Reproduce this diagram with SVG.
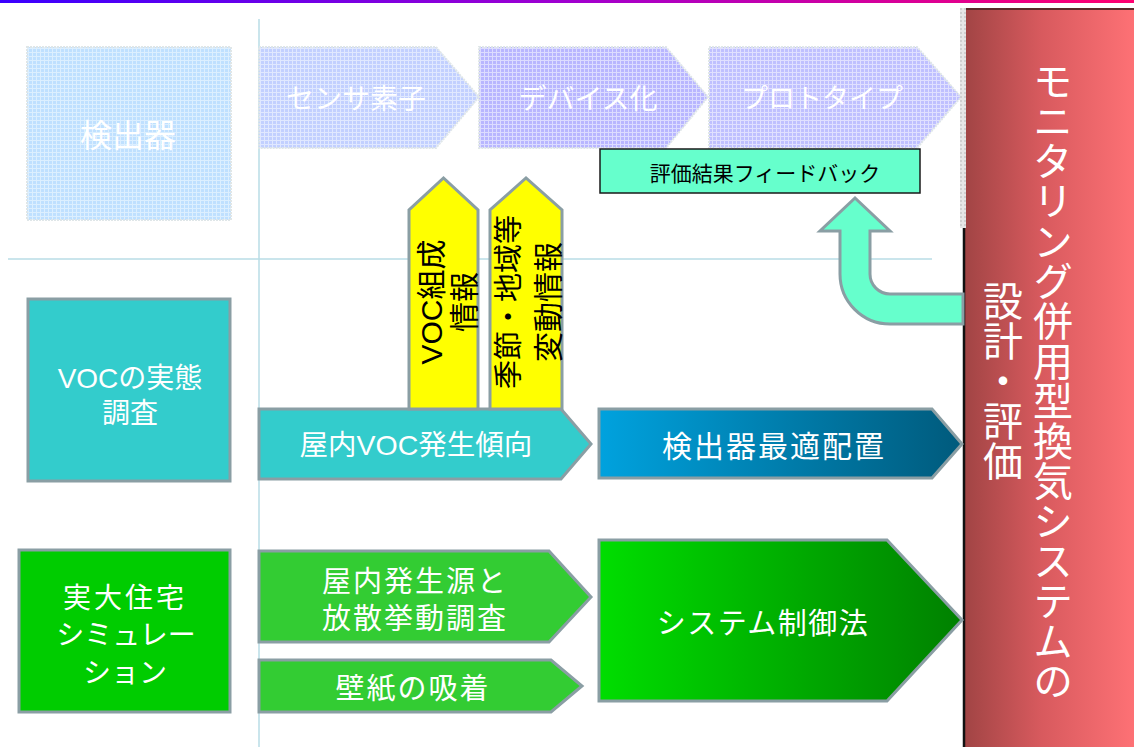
<svg xmlns="http://www.w3.org/2000/svg" width="1134" height="747" viewBox="0 0 1134 747">
  <defs>
    <linearGradient id="gTop" x1="0" y1="0" x2="1" y2="0">
      <stop offset="0" stop-color="#3a00ff"/>
      <stop offset="0.5" stop-color="#a000d0"/>
      <stop offset="1" stop-color="#ff0070"/>
    </linearGradient>
    <linearGradient id="gRed" x1="0" y1="0" x2="1" y2="0">
      <stop offset="0" stop-color="#a04444"/>
      <stop offset="0.45" stop-color="#d85a5e"/>
      <stop offset="1" stop-color="#ff7276"/>
    </linearGradient>
    <linearGradient id="gBlue" x1="0" y1="0" x2="1" y2="0">
      <stop offset="0" stop-color="#00a2de"/>
      <stop offset="1" stop-color="#005a7c"/>
    </linearGradient>
    <linearGradient id="gGreen" x1="0" y1="0" x2="1" y2="0">
      <stop offset="0" stop-color="#00de00"/>
      <stop offset="1" stop-color="#008000"/>
    </linearGradient>
    <pattern id="pA" width="4" height="4" patternUnits="userSpaceOnUse">
      <rect width="4" height="4" fill="#bfe0ff"/>
      <rect x="0" y="0" width="4" height="1" fill="#dcefff"/>
      <rect x="0" y="0" width="1" height="4" fill="#dcefff"/>
    </pattern>
    <pattern id="pB" width="4" height="4" patternUnits="userSpaceOnUse">
      <rect width="4" height="4" fill="#c2d0ff"/>
      <rect x="0" y="0" width="4" height="1" fill="#e0e8ff"/>
      <rect x="0" y="0" width="1" height="4" fill="#e0e8ff"/>
    </pattern>
    <pattern id="pC" width="4" height="4" patternUnits="userSpaceOnUse">
      <rect width="4" height="4" fill="#b8b6ff"/>
      <rect x="0" y="0" width="4" height="1" fill="#dcdcff"/>
      <rect x="0" y="0" width="1" height="4" fill="#dcdcff"/>
    </pattern>
    <pattern id="pD" width="4" height="4" patternUnits="userSpaceOnUse">
      <rect width="4" height="4" fill="#bfc0ff"/>
      <rect x="0" y="0" width="4" height="1" fill="#e0e0ff"/>
      <rect x="0" y="0" width="1" height="4" fill="#e0e0ff"/>
    </pattern>
    <pattern id="pG" width="4" height="4" patternUnits="userSpaceOnUse">
      <rect width="4" height="4" fill="#e6e6e6"/>
      <rect x="0" y="0" width="2" height="2" fill="#cfcfcf"/>
    </pattern>
  </defs>
  <style>
    .t { font-family: "Liberation Sans", "Noto Sans CJK JP", sans-serif; }
    .w { fill: #ffffff; }
    .k { fill: #000000; }
    .pat { stroke: #dfe6e8; stroke-width: 2; stroke-dasharray: 2 1; }
    .gs { stroke: #8a9ea4; stroke-width: 3; stroke-linejoin: miter; }
    .guide { stroke: #b8dce6; stroke-width: 1.5; fill: none; }
  </style>

  <rect x="0" y="0" width="1134" height="747" fill="#ffffff"/>
  <rect x="0" y="0" width="1134" height="3" fill="url(#gTop)"/>

  <g id="guides">
    <line class="guide" x1="259" y1="19" x2="259" y2="747"/>
    <line class="guide" x1="8" y1="259" x2="932" y2="259"/>
  </g>

  <g id="node-detector">
    <rect class="pat" x="27" y="47" width="204" height="173" fill="url(#pA)"/>
    <text class="t w" x="128" y="147" font-size="32" text-anchor="middle">検出器</text>
  </g>
  <g id="node-sensor">
    <polygon class="pat" points="259,47 436,47 479,97 436,148 259,148" fill="url(#pB)"/>
    <text class="t w" x="356" y="109" font-size="28" text-anchor="middle">センサ素子</text>
  </g>
  <g id="node-device">
    <polygon class="pat" points="479,47 666,47 708,97 666,148 479,148" fill="url(#pC)"/>
    <text class="t w" x="588" y="109" font-size="28" text-anchor="middle">デバイス化</text>
  </g>
  <g id="node-prototype">
    <polygon class="pat" points="709,47 917,47 961,97 917,148 709,148" fill="url(#pD)"/>
    <text class="t w" x="822" y="108" font-size="27" text-anchor="middle">プロトタイプ</text>
  </g>

  <g id="node-system">
    <rect x="963" y="8" width="175" height="745" fill="url(#gRed)"/>
    <line x1="963" y1="9" x2="1134" y2="9" stroke="#5a2a2a" stroke-width="2"/>
    <line x1="964" y1="228" x2="964" y2="747" stroke="#111111" stroke-width="2.5"/>
    <rect x="960" y="8" width="6" height="220" fill="url(#pG)"/>
    <text class="t w" x="1050" y="381" font-size="40" text-anchor="middle" writing-mode="vertical-rl">モニタリング併用型換気システムの</text>
    <text class="t w" x="1000" y="381" font-size="40" text-anchor="middle" writing-mode="vertical-rl">設計・評価</text>
  </g>

  <g id="node-feedback">
    <rect x="600" y="149" width="320" height="44" fill="#66ffcc" stroke="#1a1a1a" stroke-width="1.5"/>
    <text class="t k" x="765" y="181" font-size="21" text-anchor="middle">評価結果フィードバック</text>
  </g>

  <g id="node-voc-survey">
    <rect class="gs" x="28" y="299" width="202" height="182" fill="#33cccc"/>
    <text class="t w" x="130" y="388" font-size="28" text-anchor="middle">VOCの実態</text>
    <text class="t w" x="130" y="423" font-size="28" text-anchor="middle">調査</text>
  </g>

  <g id="node-voc-trend">
    <polygon class="gs" points="259,409 561,409 591,444 561,479 259,479" fill="#33cccc"/>
    <text class="t w" x="416" y="455" font-size="28.5" text-anchor="middle">屋内VOC発生傾向</text>
  </g>

  <g id="node-placement">
    <polygon class="gs" points="599,409 932,409 962,444 932,478 599,478" fill="url(#gBlue)"/>
    <text class="t w" x="774" y="457" font-size="30" letter-spacing="2" text-anchor="middle">検出器最適配置</text>
  </g>

  <g id="node-house">
    <rect class="gs" x="19" y="550" width="211" height="162" fill="#00cc00"/>
    <text class="t w" x="125" y="608" font-size="28" letter-spacing="3" text-anchor="middle">実大住宅</text>
    <text class="t w" x="126" y="645" font-size="28" text-anchor="middle">シミュレー</text>
    <text class="t w" x="125" y="683" font-size="28" text-anchor="middle">ション</text>
  </g>

  <g id="node-source">
    <polygon class="gs" points="259,551 549,551 591,597 549,642 259,642" fill="#33cc33"/>
    <text class="t w" x="415" y="592" font-size="29" letter-spacing="2" text-anchor="middle">屋内発生源と</text>
    <text class="t w" x="415" y="629" font-size="29" letter-spacing="2" text-anchor="middle">放散挙動調査</text>
  </g>

  <g id="node-wallpaper">
    <polygon class="gs" points="259,660 551,660 582,686 551,712 259,712" fill="#33cc33"/>
    <text class="t w" x="413" y="699" font-size="29" letter-spacing="2" text-anchor="middle">壁紙の吸着</text>
  </g>

  <g id="node-control">
    <polygon class="gs" points="599,540 887,540 962,620 887,701 599,701" fill="url(#gGreen)"/>
    <text class="t w" x="763" y="634" font-size="29" letter-spacing="1.5" text-anchor="middle">システム制御法</text>
  </g>

  <g id="connectors">
    <g id="arrow-voc-info">
      <polygon class="gs" points="409,409 409,210 443.5,178 478,210 478,409" fill="#ffff00"/>
      <g transform="rotate(-90 443.5 302)">
        <text class="t k" x="443.5" y="300" font-size="30" text-anchor="middle">VOC組成</text>
        <text class="t k" x="443.5" y="333" font-size="30" text-anchor="middle">情報</text>
      </g>
    </g>
    <g id="arrow-season-info">
      <polygon class="gs" points="490,409 490,210 526,178 562,210 562,409" fill="#ffff00"/>
      <g transform="rotate(-90 526 302)">
        <text class="t k" x="526" y="295" font-size="29" text-anchor="middle">季節・地域等</text>
        <text class="t k" x="526" y="335" font-size="30" text-anchor="middle">変動情報</text>
      </g>
    </g>
    <path id="arrow-feedback" class="gs" fill="#66ffcc" d="M963,294 L890,294 A20,20 0 0 1 870,274 L870,231 L890,231 L855,198 L820,231 L840,231 L840,274 A50,50 0 0 0 890,324 L963,324 Z"/>
  </g>
</svg>
